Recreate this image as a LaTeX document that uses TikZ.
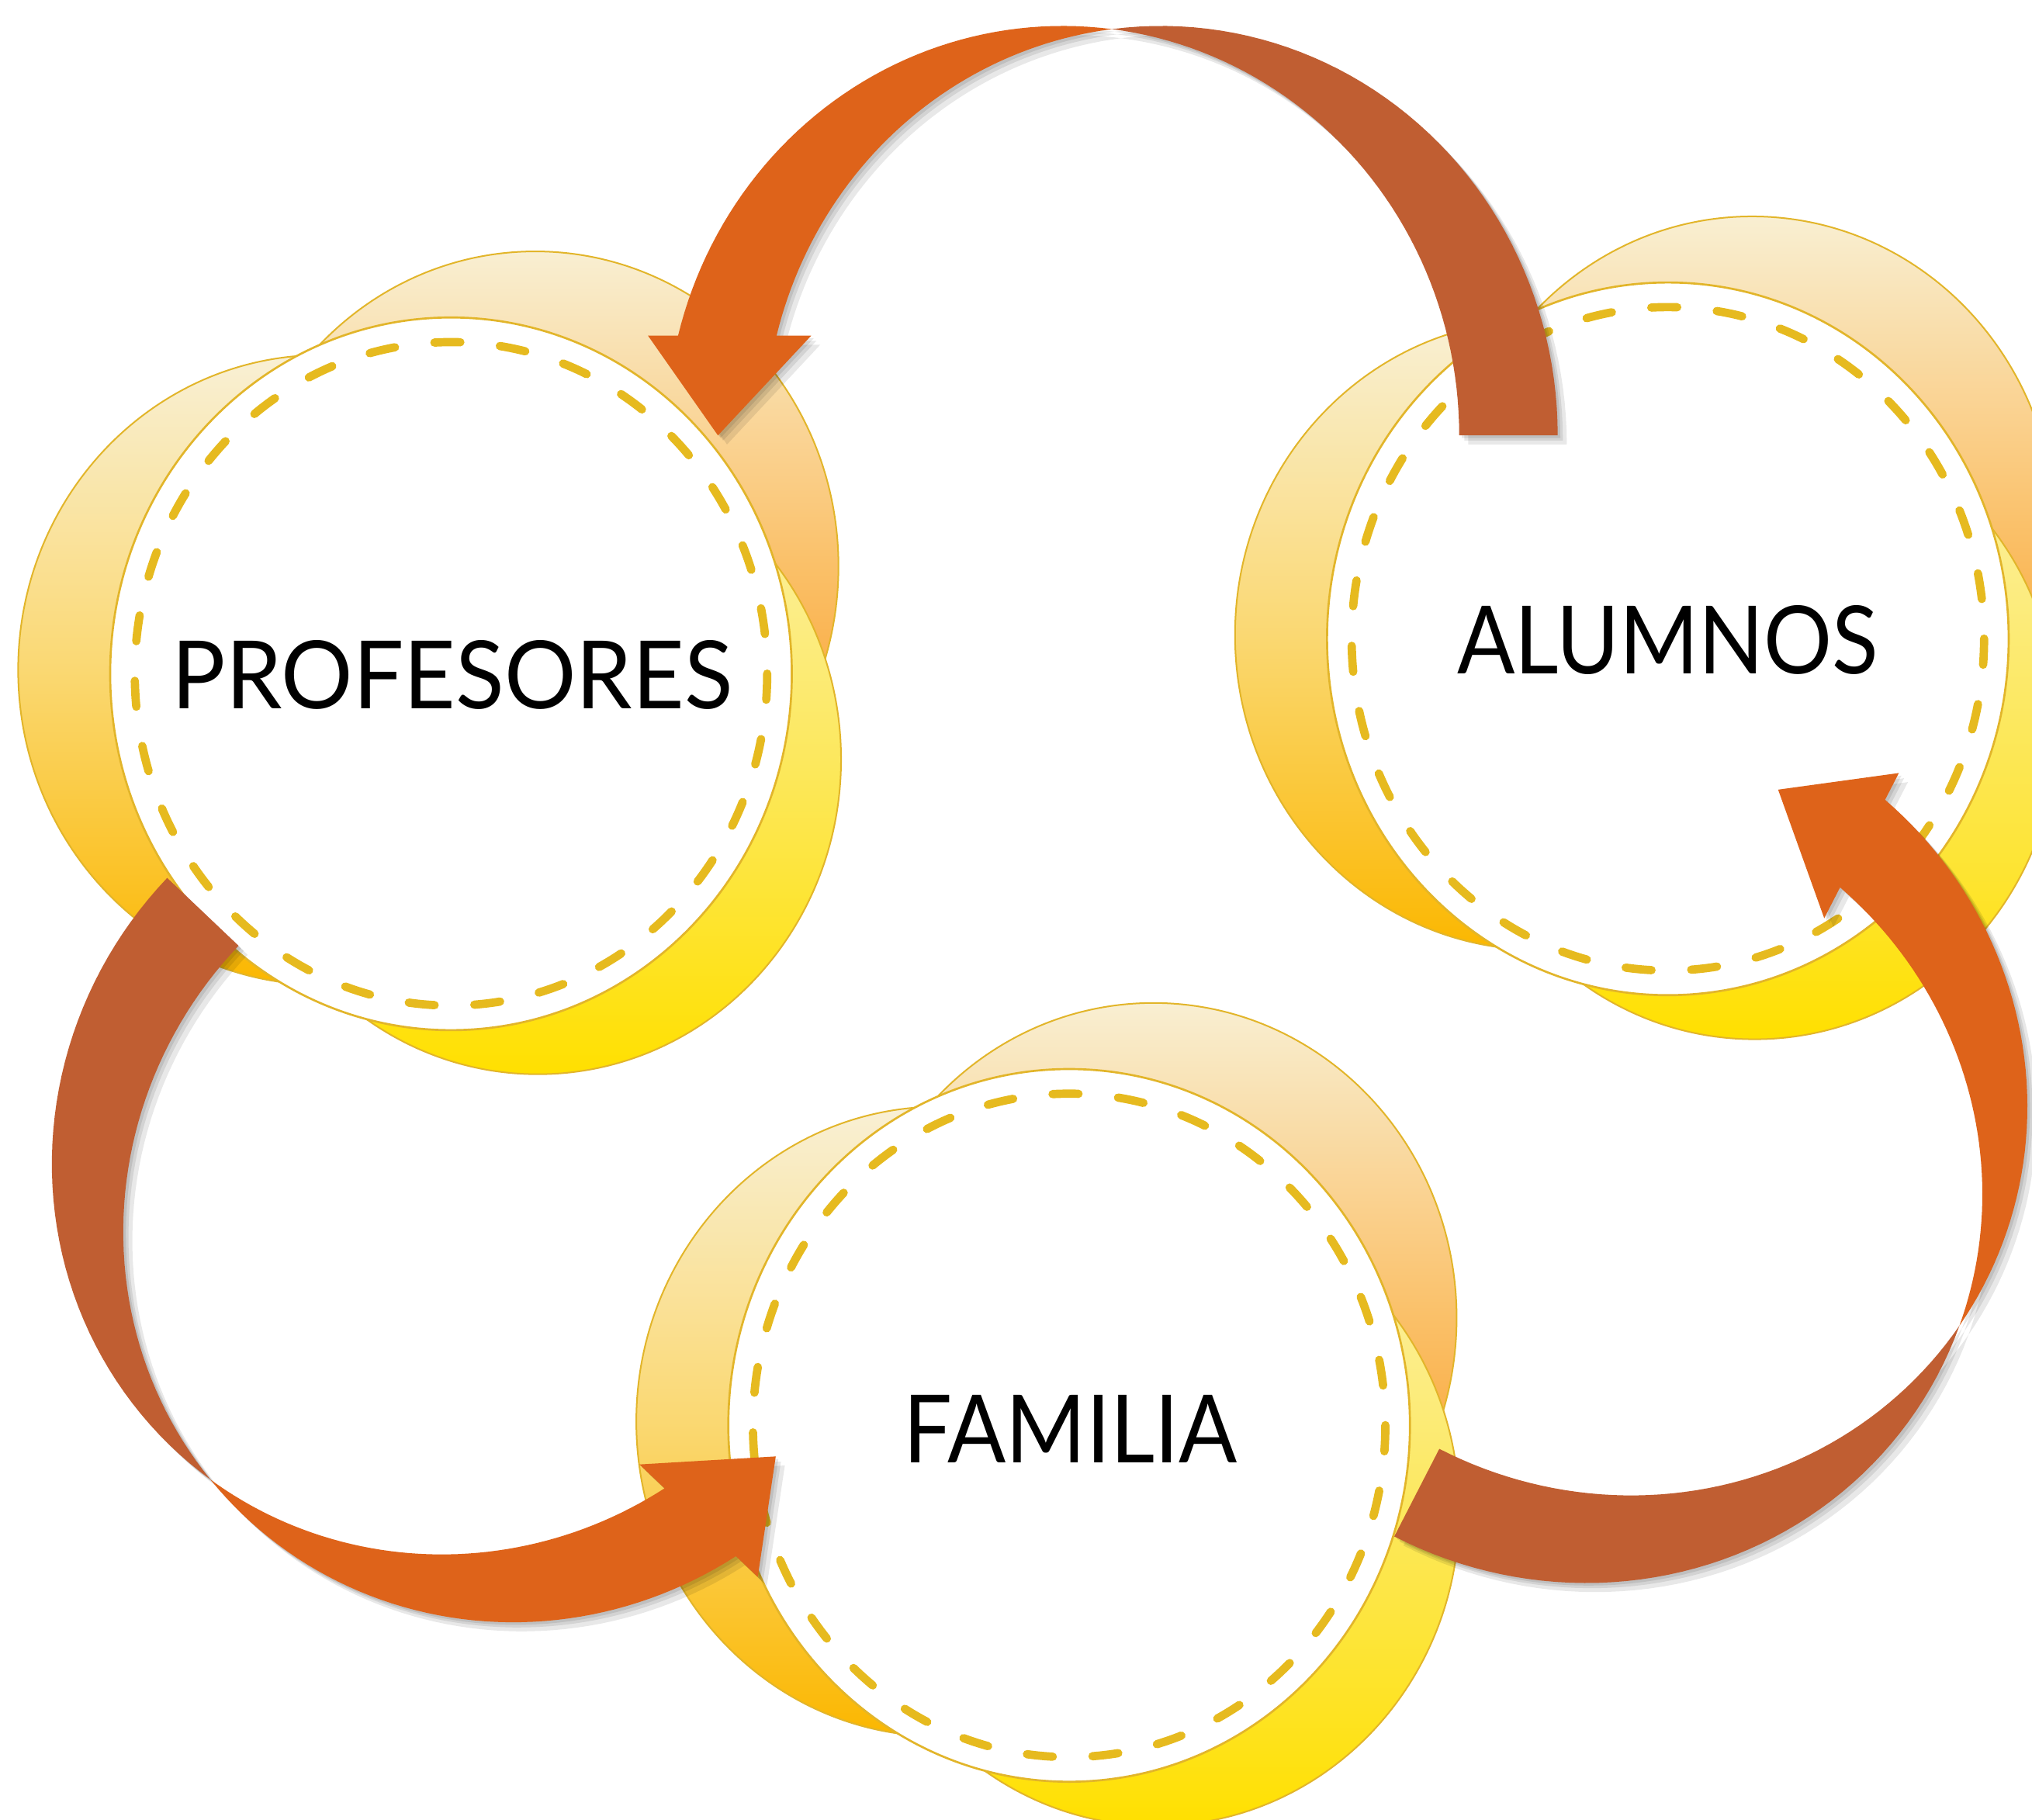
\documentclass[tikz,border=0pt]{standalone}
\usepackage{fontspec}
\setmainfont{Lato}
\definecolor{goldline}{HTML}{E2B52A}
\definecolor{dashcol}{HTML}{E6BA1F}
\definecolor{upT}{HTML}{F9EFD2}
\definecolor{upM}{HTML}{FAC068}
\definecolor{upB}{HTML}{FC9010}
\definecolor{loT}{HTML}{FCF2B0}
\definecolor{loM}{HTML}{FCE85E}
\definecolor{loB}{HTML}{FFE000}
\definecolor{leT}{HTML}{F9F0D5}
\definecolor{leM}{HTML}{FAD872}
\definecolor{leB}{HTML}{FBB700}
\definecolor{arrfront}{HTML}{DE631A}
\definecolor{arrback}{HTML}{C05E32}
\tikzset{
  bgup/.style={draw=goldline, line width=0.6pt, top color=upT, bottom color=upB, middle color=upM},
  bglo/.style={draw=goldline, line width=0.6pt, top color=loT, bottom color=loB, middle color=loM},
  bgle/.style={draw=goldline, line width=0.6pt, top color=leT, bottom color=leB, middle color=leM},
  mainc/.style={draw=goldline, line width=0.8pt, fill=white},
  dashring/.style={draw=dashcol, line width=3.2pt, line cap=round, dash pattern=on 10pt off 15.34pt},
  lab/.style={font=\fontsize{36.4}{44}\selectfont, inner sep=0pt, text=black, transform shape},
  backband/.style={fill=arrback},
  frontband/.style={fill=arrfront},
  shadowband/.style={fill=black, fill opacity=0.09}
}
% cluster of circles: #1,#2 centre
\newcommand{\clusterbg}[2]{%
  \path[bgup] ({#1+65},{#2-83}) ellipse [x radius=234, y radius=243];
  \path[bglo] ({#1+67},{#2+66}) ellipse [x radius=234, y radius=243];
  \path[bgle] ({#1-100},{#2-3}) ellipse [x radius=234, y radius=243];
  \path[mainc] (#1,#2) ellipse [x radius=263, y radius=275];
  \path[dashring] (#1,#2) ellipse [x radius=244, y radius=256];
}
% twisted curved arrow: #1,#2 origin (outer tail corner), #3 rotation, #4 back style, #5 front style
\newcommand{\bandarrow}[5]{%
  \begin{scope}[shift={(#1,#2)}, rotate=#3]
    \path[#4] plot[domain=180:82.87, samples=50] ({306+306*cos(\x)},{316*sin(\x)})
      -- plot[domain=97.13:180, samples=50] ({382+306*cos(\x)},{316*sin(\x)}) -- cycle;
    \path[#5] plot[domain=97.13:14.10, samples=50] ({382+306*cos(\x)},{316*sin(\x)})
      -- (702,77) -- (648,0) -- (576,77)
      -- plot[domain=14.10:82.87, samples=50] ({306+306*cos(\x)},{316*sin(\x)}) -- cycle;
  \end{scope}
}
\newcommand{\shadowarrow}[3]{%
  \bandarrow{#1+2}{#2+2}{#3}{shadowband}{shadowband}
  \bandarrow{#1+4}{#2+4}{#3}{shadowband}{shadowband}
  \bandarrow{#1+7}{#2+7}{#3}{shadowband}{shadowband}
}
\begin{document}
\begin{tikzpicture}[x=0.5pt, y=-0.5pt]
  \useasboundingbox (0,0) rectangle (1568,1404);
  \clip (0,0) rectangle (1568,1404);
  \fill[white] (0,0) rectangle (1568,1404);

  % circle clusters
  \clusterbg{348}{520}
  \clusterbg{1287}{493}
  \clusterbg{825}{1100}

  % labels
  \node[lab, xscale=0.95] (prof) at (349,521) {PROFESORES};
  \node[lab, xscale=0.905] (alum) at (1287,494) {ALUMNOS};
  \node[lab, xscale=0.915] (fami) at (826,1103) {FAMILIA};

  % shadows of arrows
  \shadowarrow{1202}{336}{-180}
  \shadowarrow{129}{677.5}{-43.55}
  \shadowarrow{1075.9}{1185.7}{62.8}

  % arrows: ALUMNOS -> PROFESORES, PROFESORES -> FAMILIA, FAMILIA -> ALUMNOS
  \bandarrow{1202}{336}{-180}{backband}{frontband}
  \bandarrow{129}{677.5}{-43.55}{backband}{frontband}
  \bandarrow{1075.9}{1185.7}{62.8}{backband}{frontband}
\end{tikzpicture}
\end{document}
